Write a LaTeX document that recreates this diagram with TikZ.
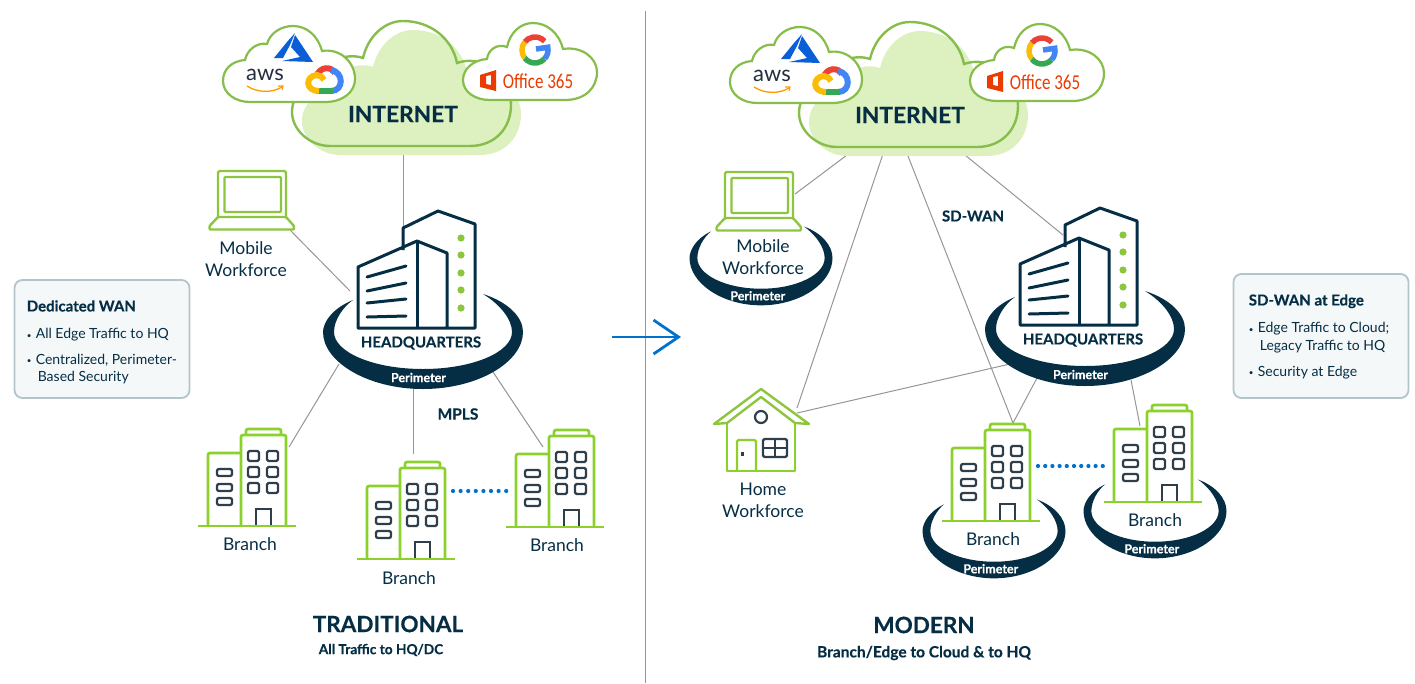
\documentclass[tikz,border=0pt]{standalone}
\usepackage{fontspec}
\setmainfont{Lato}[BoldFeatures={FakeBold=0.35}]
\newfontfamily\officefont{Carlito}
\usetikzlibrary{positioning,calc,arrows.meta}
\definecolor{navy}{HTML}{052E45}
\definecolor{leaf}{HTML}{8CD12B}
\definecolor{moss}{HTML}{86BD4B}
\definecolor{lime}{HTML}{8CC63F}
\definecolor{mint}{HTML}{DDF0BF}
\definecolor{slate}{HTML}{2E3E4A}
\definecolor{wire}{HTML}{969696}
\definecolor{azure}{HTML}{0A5FD6}
\definecolor{sky}{HTML}{0072CE}
\definecolor{gred}{HTML}{EA4335}
\definecolor{gblue}{HTML}{4285F4}
\definecolor{ggreen}{HTML}{34A853}
\definecolor{gyellow}{HTML}{FBBC05}
\definecolor{office}{HTML}{EB3C00}
\definecolor{smile}{HTML}{FF9900}
\definecolor{awsink}{HTML}{232F3E}
\definecolor{panel}{HTML}{F5F8F9}
\definecolor{panelline}{HTML}{B4C4CC}
\newcommand{\dotitem}{\makebox[9pt][l]{\raisebox{.8pt}{\fontsize{8}{8}\selectfont•}}}
\newcommand{\inetshape}{(330,146) -- (470,146) .. controls (495,146) and (511,128) .. (511,105) .. controls (511,85) and (490,52) .. (457,63) .. controls (452,38) and (430,21) .. (403,21) .. controls (385,21) and (368,36) .. (363,58) .. controls (345,52) and (325,62) .. (322,80) .. controls (305,85) and (292,95) .. (292,112) .. controls (292,130) and (310,146) .. (330,146) -- cycle}
\tikzset{
  inetcloud/.pic={
    \begin{scope}[shift={(-403,-100)}]
      \fill[mint,shift={(10,9)}] \inetshape;
      \draw[moss,line width=2.4pt] \inetshape;
      % small clouds
      \draw[moss,line width=2.2pt,fill=white] (250,102) -- (325,102) .. controls (343,102) and (355,92) .. (355,79) .. controls (355,62) and (340,48) .. (322,51) .. controls (318,36) and (307,26) .. (293,26) .. controls (281,26) and (270,33) .. (267,44) .. controls (257,42) and (247,50) .. (245,60) .. controls (232,61) and (223,69) .. (223,81) .. controls (223,93) and (235,102) .. (250,102) -- cycle;
      \draw[moss,line width=2.2pt,fill=white] (490,100) -- (565,100) .. controls (585,100) and (597,88) .. (597,72) .. controls (597,58) and (582,46) .. (563,49) .. controls (559,33) and (547,23) .. (533,23) .. controls (520,23) and (510,33) .. (507,47) .. controls (497,43) and (488,50) .. (487,59) .. controls (473,60) and (463,69) .. (463,80) .. controls (463,92) and (475,100) .. (490,100) -- cycle;
      % azure
      \fill[azure] (274,58) -- (287,42) -- (295,33) -- (290,45) -- (283,58) -- cycle;
      \fill[azure] (295,35) -- (313,62) -- (282,61) -- (300,57) -- (291,47) -- cycle;
      % aws
      \node[text=awsink,font=\fontsize{22}{22}\selectfont] (-aws) at (265,75) {aws};
      \draw[smile,line width=1.3pt] (247,86) .. controls (258,93) and (272,93) .. (282,87);
      \draw[smile,line width=1.1pt] (278,86) -- (283,86) -- (282,90);
      % google cloud
      \draw[gred,line width=6pt] (316,77) .. controls (320,66) and (331,66) .. (335,73);
      \draw[gblue,line width=6pt] (331,70) .. controls (344,72) and (344,91) .. (331,91);
      \draw[ggreen,line width=6pt] (333,91) -- (316,91);
      \draw[gyellow,line width=6pt] (319,91) .. controls (305,91) and (305,76) .. (317,75) .. controls (320,75) and (322,77) .. (324,80);
      % google g
      \draw[gred,line width=5.5pt] (535,50) ++(42:13pt) arc[start angle=42,end angle=142,radius=13pt];
      \draw[gyellow,line width=5.5pt] (535,50) ++(142:13pt) arc[start angle=142,end angle=218,radius=13pt];
      \draw[ggreen,line width=5.5pt] (535,50) ++(218:13pt) arc[start angle=218,end angle=318,radius=13pt];
      \draw[gblue,line width=5.5pt] (535,50) ++(318:13pt) arc[start angle=318,end angle=372,radius=13pt] -- (536,49);
      % office
      \fill[office,even odd rule] (480,75) -- (496,70) -- (496,91) -- (480,87) -- cycle (486,76) -- (491,75) -- (491,85) -- (486,84) -- cycle;
      \node[text=office,font=\officefont\fontsize{17}{18}\selectfont] (-office) at (538,81) {\scalebox{1}[1.25]{Office 365}};
    \end{scope}
  },
  tower/.pic={
    \begin{scope}[shift={(-416,-328)}]
      \draw[navy,line width=3pt,line join=round,fill=white] (403,250) -- (403,228) -- (438,211) -- (475,224) -- (475,328) -- (358,328) -- (358,267) -- (417,241) -- (447,253) -- (447,328);
      \draw[navy,line width=3pt] (417,241) -- (417,328);
      \draw[navy,line width=3pt,line cap=round] (367,277) -- (406,266) (367,291) -- (406,283) (367,303) -- (406,299) (367,317) -- (406,316);
      \foreach \yy in {238,255,273,290,308} {\fill[lime] (461,\yy) circle[radius=3.6pt];}
    \end{scope}
  },
  guard/.pic={
    \fill[navy] (-70,-32) .. controls (-90,-24) and (-100,-10) .. (-100,0) .. controls (-100,30) and (-55,57) .. (0,57) .. controls (55,57) and (100,30) .. (100,0) .. controls (100,-15) and (85,-30) .. (60,-38) .. controls (78,-27) and (89,-12) .. (89,0) .. controls (89,20) and (50,37) .. (0,37) .. controls (-50,37) and (-89,20) .. (-89,0) .. controls (-89,-12) and (-80,-25) .. (-70,-32) -- cycle;
    \node[text=white,font=\fontsize{12.5}{13}\selectfont\bfseries] (-tag) at (-4.5,45.5) {Perimeter};
  },
  office/.pic={
    \begin{scope}[shift={(-247,-526)}]
      \draw[leaf,line width=2.7pt,rounded corners=2pt] (246,435) -- (246,429) -- (281,429) -- (281,435);
      \draw[leaf,line width=2.7pt,rounded corners=2pt] (208,526) -- (208,453) -- (241,453);
      \draw[leaf,line width=2.7pt,rounded corners=2pt] (241,526) -- (241,435) -- (286,435) -- (286,526);
      \draw[leaf,line width=2.7pt] (198,526) -- (296,526);
      \foreach \xx in {248,267} {\foreach \yy in {451,467,483} {\draw[slate,line width=2.3pt,rounded corners=1.5pt] (\xx,\yy) rectangle ++(11,10);}}
      \foreach \yy in {469,484,498} {\draw[slate,line width=2.3pt,rounded corners=2pt] (217,\yy) rectangle ++(15,7);}
      \draw[slate,line width=2.3pt] (256,525) -- (256,509) -- (271,509) -- (271,525);
    \end{scope}
  },
  laptop/.pic={
    \begin{scope}[shift={(-251.5,-230)}]
      \draw[lime,line width=2.4pt,rounded corners=1.5pt,fill=white] (218,217) -- (218,171) -- (286,171) -- (286,217);
      \draw[lime,line width=2.4pt,rounded corners=1pt] (224.5,177) rectangle (281,212);
      \draw[lime,line width=2.4pt,rounded corners=1pt,fill=white] (218,217) -- (286,217) -- (294,226) -- (294,229.5) -- (209.5,229.5) -- (209.5,226) -- cycle;
    \end{scope}
  }
}
\begin{document}
\begin{tikzpicture}[x=1pt,y=-1pt,
  link/.style={wire,line width=1pt},
  spot/.style={inner sep=0pt,outer sep=0pt,minimum size=0pt},
  place/.style={text=navy,font=\fontsize{17.5}{22}\selectfont,align=center},
  bold/.style={text=navy,font=\fontsize{15}{16}\selectfont\bfseries},
  bighead/.style={text=navy,font=\fontsize{22.5}{26}\selectfont\bfseries},
  subhead/.style={text=navy,font=\fontsize{13.7}{16}\selectfont\bfseries},
  infobox/.style={draw=panelline,line width=1.8pt,fill=panel,rounded corners=8pt,minimum width=175pt,inner sep=0pt},
  infotext/.style={text=navy,font=\fontsize{14}{17.5}\selectfont,align=left,inner sep=0pt,anchor=north west}]
\useasboundingbox (0,0) rectangle (1415,683);

% SPOTS

\node [spot] (cloudA) at (403,100) {};
\node [spot] (cloudB) at (910,101) {};
\node [spot] (hqA) at (423,332) {};
\node [spot] (hqB) at (1085,329) {};
\node [spot] (lapA) at (251.5,230) {};
\node [spot] (lapB) at (758.5,231) {};
\node [spot] (homeA) at (761,430) {};
\node [spot] (branchA) at (247,526) {};
\node [spot] (branchB) at (406,559) {};
\node [spot] (branchC) at (555,527) {};
\node [spot] (branchD) at (991,521) {};
\node [spot] (branchE) at (1153,502) {};
\coordinate (splitTop) at (645.5,11);
\coordinate (splitEnd) at (645.5,683);
\coordinate (moveFrom) at (612,337);
\coordinate (moveTo) at (681,337);

% LINKS

\draw[wire,line width=.9pt] (splitTop) -- (splitEnd);

\draw[link] ($(cloudA)+(0,50)$) -- ($(hqA)+(-20,-104)$);
\draw[link] ($(lapA)+(38.5,0)$) -- ($(hqA)+(-73,-41)$);
\draw[link] ($(hqA)+(-84,32)$) -- ($(branchA)+(42,-79)$);
\draw[link] ($(hqA)+(-10,50)$) -- ($(branchB)+(7,-105)$);
\draw[link] ($(hqA)+(70,40)$) -- ($(branchC)+(-12,-80)$);

\draw[link] ($(cloudB)+(-63,54)$) -- ($(lapB)+(36.5,-37)$);
\draw[link] ($(cloudB)+(-26,50)$) -- ($(homeA)+(36,-22)$);
\draw[link] ($(cloudB)+(-4,50)$) -- ($(branchD)+(22,-98)$);
\draw[link] ($(cloudB)+(55,54)$) -- ($(hqB)+(-22,-94)$);
\draw[link] ($(homeA)+(36,-17)$) -- ($(hqB)+(-75,35)$);
\draw[link] ($(hqB)+(-48,49)$) -- ($(branchD)+(22,-98)$);
\draw[link] ($(hqB)+(46,51)$) -- ($(branchE)+(-13,-76)$);

\draw[sky,line width=4.2pt,line cap=round,dash pattern=on 0pt off 7.6pt] ($(branchB)+(47,-68)$) -- ($(branchC)+(-47,-36)$);
\draw[sky,line width=4.2pt,line cap=round,dash pattern=on 0pt off 7.2pt] ($(branchD)+(47,-55)$) -- ($(branchE)+(-50,-36)$);

\draw[sky,line width=2.8pt,-{Straight Barb[length=25pt,width=34pt]}] (moveFrom) -- (moveTo);

% ICONS

\pic at (cloudA) {inetcloud};
\pic at (cloudB) {inetcloud};

\pic (ringA) at (hqA) {guard};
\pic (ringB) at (hqB) {guard};
\pic at ($(hqA)+(-7,-4)$) {tower};
\pic at ($(hqB)+(-7,-4)$) {tower};

\pic[xscale=.715,yscale=.83] (ringC) at (761,258) {guard};
\pic[xscale=.715,yscale=.83] (ringD) at (994,531) {guard};
\pic[xscale=.715,yscale=.83] (ringE) at (1155,511) {guard};

\pic at (lapA) {laptop};
\pic at (lapB) {laptop};

\pic at (branchA) {office};
\pic at (branchB) {office};
\pic at (branchC) {office};
\pic at (branchD) {office};
\pic at (branchE) {office};

% house
\draw[leaf,line width=2.4pt,line join=round] (727,424) -- (727,471) -- (795,471) -- (795,424);
\draw[lime,line width=2.4pt,line join=round] (727,423) -- (761,397) -- (795,423) -- (809,424) -- (761,389) -- (714,424) -- cycle;
\draw[leaf,line width=2.2pt,rounded corners=1.5pt] (737,471) -- (737,440) -- (756,440) -- (756,471);
\fill[slate] (740.5,452) rectangle (743.5,456);
\draw[slate,line width=2.2pt] (761,417) circle[radius=6pt];
\draw[slate,line width=2.2pt,rounded corners=1.5pt] (763,439) rectangle (787,457);
\draw[slate,line width=2pt] (775,439) -- (775,457) (763,448) -- (787,448);

% LABELS

\node [place] (mobileA) at (246,259) {Mobile\\Workforce};
\node [place] (mobileB) at (763,257) {Mobile\\Workforce};
\node [place] (homeTxt) at (763,500) {Home\\Workforce};
\node [place] (branchTxtA) at (250,544) {Branch};
\node [place] (branchTxtB) at (409,578) {Branch};
\node [place] (branchTxtC) at (557,545) {Branch};
\node [place] (branchTxtD) at (993,539) {Branch};
\node [place] (branchTxtE) at (1155,520) {Branch};

\node [bold] (hqTxtA) at (421,343) {HEADQUARTERS};
\node [bold] (hqTxtB) at (1083,340) {HEADQUARTERS};
\node [bold,font=\fontsize{15.5}{16}\selectfont\bfseries] (mplsTxt) at (458,414) {MPLS};
\node [bold,font=\fontsize{15}{16}\selectfont\bfseries] (sdwanTxt) at (973,216) {SD-WAN};

\node [text=navy,font=\fontsize{22.7}{26}\selectfont\bfseries] (inetA) at (403,114) {INTERNET};
\node [text=navy,font=\fontsize{22.7}{26}\selectfont\bfseries] (inetB) at (910,115) {INTERNET};

\node [bighead] (tradTitle) at (388,624) {TRADITIONAL};
\node [subhead] (tradSub) at (381,650) {All Traffic to HQ/DC};
\node [bighead] (modTitle) at (924,625) {MODERN};
\node [subhead,font=\fontsize{15.5}{16}\selectfont\bfseries,below=28pt of modTitle.center,anchor=center] (modSub) {Branch/Edge to Cloud \& to HQ};

% BOXES

\node [infobox,minimum height=118pt] (wanBox) at (102,339) {};
\node [infotext,below right=21pt and 13pt of wanBox.north west] (wanTxt)
{{\fontsize{15}{17}\selectfont\bfseries Dedicated WAN}\\[10pt]
\dotitem All Edge Traffic to HQ\\[8pt]
\dotitem Centralized, Perimeter-\\
\hspace*{11pt}Based Security};

\node [infobox,minimum height=124pt] (edgeBox) at (1321,336) {};
\node [infotext,below right=21pt and 16pt of edgeBox.north west] (edgeTxt)
{{\fontsize{15}{17}\selectfont\bfseries SD-WAN at Edge}\\[10pt]
\dotitem Edge Traffic to Cloud;\\
\hspace*{11pt}Legacy Traffic to HQ\\[8.5pt]
\dotitem Security at Edge};

\end{tikzpicture}
\end{document}
